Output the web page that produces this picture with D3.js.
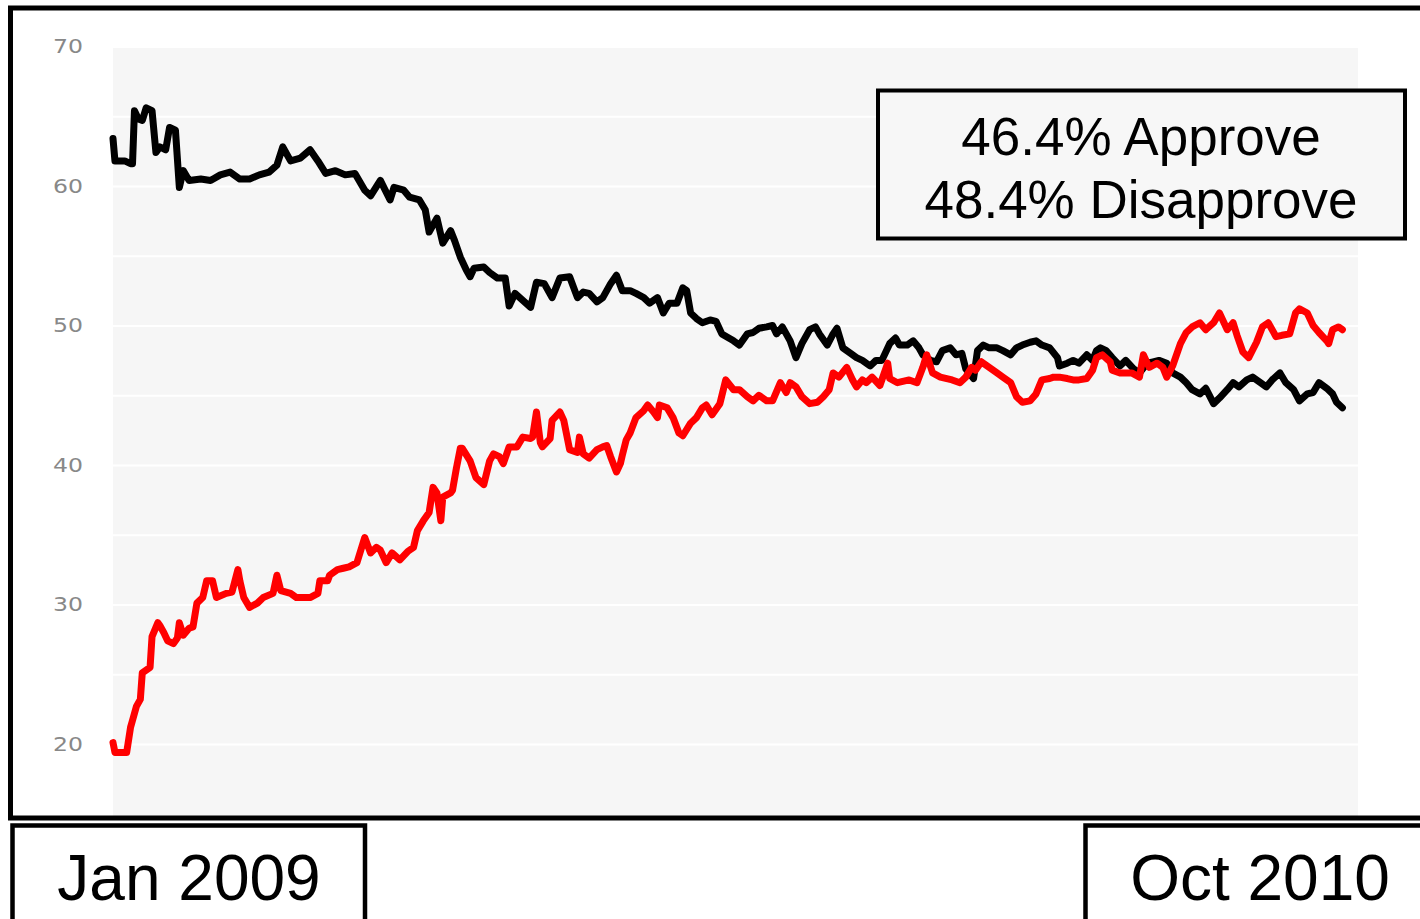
<!DOCTYPE html>
<html>
<head>
<meta charset="utf-8">
<script src="https://cdn.jsdelivr.net/npm/d3@7/dist/d3.min.js"></script>
<style>
  html, body { margin: 0; padding: 0; background: #ffffff; }
  svg { display: block; }
</style>
</head>
<body>
<svg id="chart" width="1420" height="919"></svg>
<script>
// ---- data ----
const startDate = "2009-01-20";
const yTickLabels = [20, 30, 40, 50, 60, 70];
const gridValues = [20, 25, 30, 35, 40, 45, 50, 55, 60, 65];
const legendLines = ["46.4% Approve", "48.4% Disapprove"];
const startLabel = "Jan 2009";
const endLabel = "Oct 2010";

const approveDays = [0,1,6,9,10,11,13,15,17,20,22,24,27,29,32,34,36,39,45,50,55,60,65,70,75,80,84,87,91,96,101,105,109,114,119,124,129,132,137,142,144,149,152,157,160,162,166,169,173,175,178,181,183,185,190,193,197,201,203,206,210,214,217,221,225,229,234,238,241,244,248,251,255,258,261,265,268,272,275,279,282,285,289,292,294,296,299,302,306,309,312,318,321,325,328,331,335,338,340,343,347,350,353,357,360,362,366,369,371,374,378,381,384,388,391,394,398,401,403,407,410,413,415,419,422,425,429,432,435,437,441,443,446,449,453,456,460,463,466,470,473,476,480,484,485,489,492,495,499,502,504,506,509,512,516,519,523,526,530,533,536,540,543,547,550,553,557,560,564,567,571,574,577,581,584,588,591,594,598,601,605,608,612,615,618,622,625,627,630];
const approveValues = [63.4,61.8,61.8,61.6,61.6,65.4,64.8,64.7,65.6,65.4,62.4,62.8,62.6,64.2,64.0,59.9,61.1,60.4,60.5,60.4,60.8,61.0,60.5,60.5,60.8,61.0,61.5,62.8,61.8,62.0,62.6,61.8,60.9,61.1,60.8,60.9,59.7,59.3,60.4,59.0,59.9,59.7,59.2,59.0,58.3,56.7,57.7,55.9,56.8,56.1,54.9,54.0,53.5,54.1,54.2,53.8,53.4,53.4,51.4,52.3,51.8,51.3,53.1,53.0,52.0,53.4,53.5,52.0,52.4,52.3,51.7,52.0,53.0,53.6,52.5,52.5,52.3,52.0,51.6,52.0,50.9,51.6,51.6,52.7,52.5,50.9,50.5,50.2,50.4,50.3,49.4,48.9,48.6,49.4,49.5,49.8,49.9,50.0,49.4,49.9,48.9,47.7,48.7,49.7,49.9,49.4,48.6,49.4,49.8,48.4,48.0,47.7,47.5,47.1,47.5,47.5,48.7,49.1,48.6,48.6,48.9,48.4,47.9,47.5,47.4,48.2,48.4,47.9,48.0,46.9,46.2,48.2,48.6,48.4,48.4,48.2,47.9,48.4,48.6,48.8,48.9,48.6,48.4,47.7,47.1,47.3,47.5,47.3,47.9,47.5,48.2,48.4,48.2,47.7,47.1,47.5,46.9,46.6,47.3,47.4,47.5,47.3,46.6,46.3,45.9,45.4,45.1,45.5,44.4,44.8,45.4,45.9,45.6,46.1,46.3,45.9,45.6,46.1,46.6,45.9,45.4,44.6,45.1,45.2,45.9,45.5,45.1,44.5,44.1];

const disapproveDays = [0,1,7,9,10,12,14,15,19,20,23,24,26,28,31,33,34,36,39,41,43,46,48,51,53,58,61,64,65,67,70,74,77,82,84,86,91,94,101,105,106,110,111,115,118,121,125,129,132,135,137,140,143,147,151,154,156,159,162,164,166,168,169,173,174,176,178,179,183,186,190,193,195,198,200,203,207,210,214,215,217,219,220,224,225,229,231,233,234,238,239,241,244,248,251,253,255,258,260,261,263,265,268,272,274,277,279,280,284,287,290,292,296,299,302,304,307,311,314,318,321,325,328,331,335,338,342,345,347,350,353,357,361,364,367,369,372,376,379,381,384,386,389,393,397,398,402,408,412,415,417,420,424,430,434,437,440,442,445,449,453,456,460,463,466,470,473,476,480,482,485,489,492,495,499,502,504,507,511,512,516,522,526,528,531,535,538,540,543,547,550,553,557,560,564,567,571,574,576,579,582,586,589,592,596,599,603,606,608,612,615,618,622,623,625,628,630];
const disapproveValues = [20.1,19.4,19.4,21.2,21.7,22.7,23.2,25.1,25.5,27.7,28.7,28.5,28.0,27.4,27.2,27.6,28.7,27.8,28.3,28.4,30.1,30.5,31.7,31.7,30.5,30.8,30.9,32.5,31.7,30.5,29.8,30.1,30.5,30.8,32.1,31.0,30.8,30.5,30.5,30.8,31.7,31.7,32.1,32.5,32.6,32.7,33.0,34.8,33.7,34.1,33.9,33.0,33.7,33.2,33.8,34.1,35.3,36.0,36.6,38.4,38.0,36.0,37.7,38.0,38.2,39.8,41.2,41.2,40.3,39.1,38.6,40.3,40.8,40.6,40.1,41.3,41.3,42.0,41.9,42.0,43.8,41.6,41.3,41.9,43.2,43.8,43.2,41.8,41.1,40.9,42.0,40.8,40.5,41.1,41.3,41.4,40.6,39.5,40.1,40.7,41.8,42.3,43.4,43.9,44.3,43.8,43.4,44.3,44.1,43.4,42.3,42.1,43.0,43.4,44.1,44.3,43.6,44.4,46.1,45.4,45.4,44.9,44.6,45.0,44.6,44.6,45.9,45.2,45.9,45.6,44.9,44.4,44.5,44.9,45.4,46.6,46.3,47.0,46.1,45.6,46.1,45.9,46.3,45.7,47.3,46.2,45.9,46.1,45.9,47.0,47.9,46.6,46.3,46.1,45.9,46.3,47.0,46.8,47.4,47.0,46.6,46.3,45.9,44.9,44.5,44.6,45.1,46.1,46.2,46.3,46.3,46.2,46.1,46.1,46.2,46.8,47.7,47.9,47.4,46.8,46.6,46.6,46.3,47.9,47.0,47.3,47.0,46.3,47.1,48.7,49.5,49.9,50.2,49.7,50.2,50.9,49.7,50.2,49.3,48.1,47.7,48.8,49.9,50.2,49.2,49.3,49.4,50.9,51.2,50.9,50.0,49.5,48.9,48.7,49.7,49.9,49.7];

// ---- chart ----
const svg = d3.select("#chart");
const plotLeft = 113, plotRight = 1358, plotTop = 48, plotBottom = 816;

const t0 = new Date(startDate + "T00:00:00");
const dayToDate = d => new Date(t0.getTime() + d * 86400000);

const x = d3.scaleTime()
  .domain([dayToDate(0), dayToDate(638)])
  .range([plotLeft, plotRight]);
const y = d3.scaleLinear()
  .domain([15, 70])
  .range([813.8, 46.5]);

// plot background
svg.append("rect")
  .attr("x", plotLeft).attr("y", plotTop)
  .attr("width", plotRight - plotLeft).attr("height", plotBottom - plotTop)
  .attr("fill", "#f6f6f6");

// gridlines
const grid = svg.append("g")
  .attr("transform", `translate(${plotLeft},0)`)
  .call(d3.axisLeft(y).tickValues(gridValues).tickSize(-(plotRight - plotLeft)).tickFormat(""));
grid.select(".domain").remove();
grid.selectAll("line").attr("stroke", "#ffffff").attr("stroke-width", 2);

// y tick labels
const yAxis = svg.append("g")
  .attr("transform", "translate(83,0)")
  .call(d3.axisLeft(y).tickValues(yTickLabels).tickSize(0).tickPadding(0));
yAxis.select(".domain").remove();
yAxis.selectAll("text")
  .attr("fill", "#888888")
  .attr("font-family", "'DejaVu Sans', sans-serif")
  .attr("font-size", 20)
  .attr("textLength", 30)
  .attr("lengthAdjust", "spacingAndGlyphs");

// lines
const approve = approveDays.map((d, i) => ({ date: dayToDate(d), v: approveValues[i] }));
const disapprove = disapproveDays.map((d, i) => ({ date: dayToDate(d), v: disapproveValues[i] }));
const line = d3.line().x(d => x(d.date)).y(d => y(d.v));

svg.append("path").datum(approve)
  .attr("d", line).attr("fill", "none")
  .attr("stroke", "#000000").attr("stroke-width", 7)
  .attr("stroke-linejoin", "round").attr("stroke-linecap", "round");
svg.append("path").datum(disapprove)
  .attr("d", line).attr("fill", "none")
  .attr("stroke", "#ff0000").attr("stroke-width", 7)
  .attr("stroke-linejoin", "round").attr("stroke-linecap", "round");

// outer frame
svg.append("rect")
  .attr("x", 10.5).attr("y", 8).attr("width", 1440).attr("height", 810)
  .attr("fill", "none").attr("stroke", "#000").attr("stroke-width", 5);

// legend box
svg.append("rect")
  .attr("x", 878).attr("y", 90.5).attr("width", 527).attr("height", 148)
  .attr("fill", "#f7f7f7").attr("stroke", "#000").attr("stroke-width", 4);
svg.append("g").selectAll("text").data(legendLines).join("text")
  .attr("x", 1141)
  .attr("y", (d, i) => 155 + i * 63)
  .attr("text-anchor", "middle")
  .attr("font-family", "'Liberation Sans', Arial, sans-serif")
  .attr("font-size", 53)
  .attr("fill", "#000")
  .text(d => d);

// date boxes
svg.append("rect")
  .attr("x", 12.5).attr("y", 825.5).attr("width", 352.5).attr("height", 120)
  .attr("fill", "#fff").attr("stroke", "#000").attr("stroke-width", 4.5);
svg.append("text")
  .attr("x", 189).attr("y", 900)
  .attr("text-anchor", "middle")
  .attr("font-family", "'Liberation Sans', Arial, sans-serif")
  .attr("font-size", 64).attr("fill", "#000")
  .text(startLabel);

svg.append("rect")
  .attr("x", 1085.5).attr("y", 825.5).attr("width", 400).attr("height", 120)
  .attr("fill", "#fff").attr("stroke", "#000").attr("stroke-width", 4.5);
svg.append("text")
  .attr("x", 1260).attr("y", 900)
  .attr("text-anchor", "middle")
  .attr("font-family", "'Liberation Sans', Arial, sans-serif")
  .attr("font-size", 64).attr("fill", "#000")
  .text(endLabel);
</script>
</body>
</html>
